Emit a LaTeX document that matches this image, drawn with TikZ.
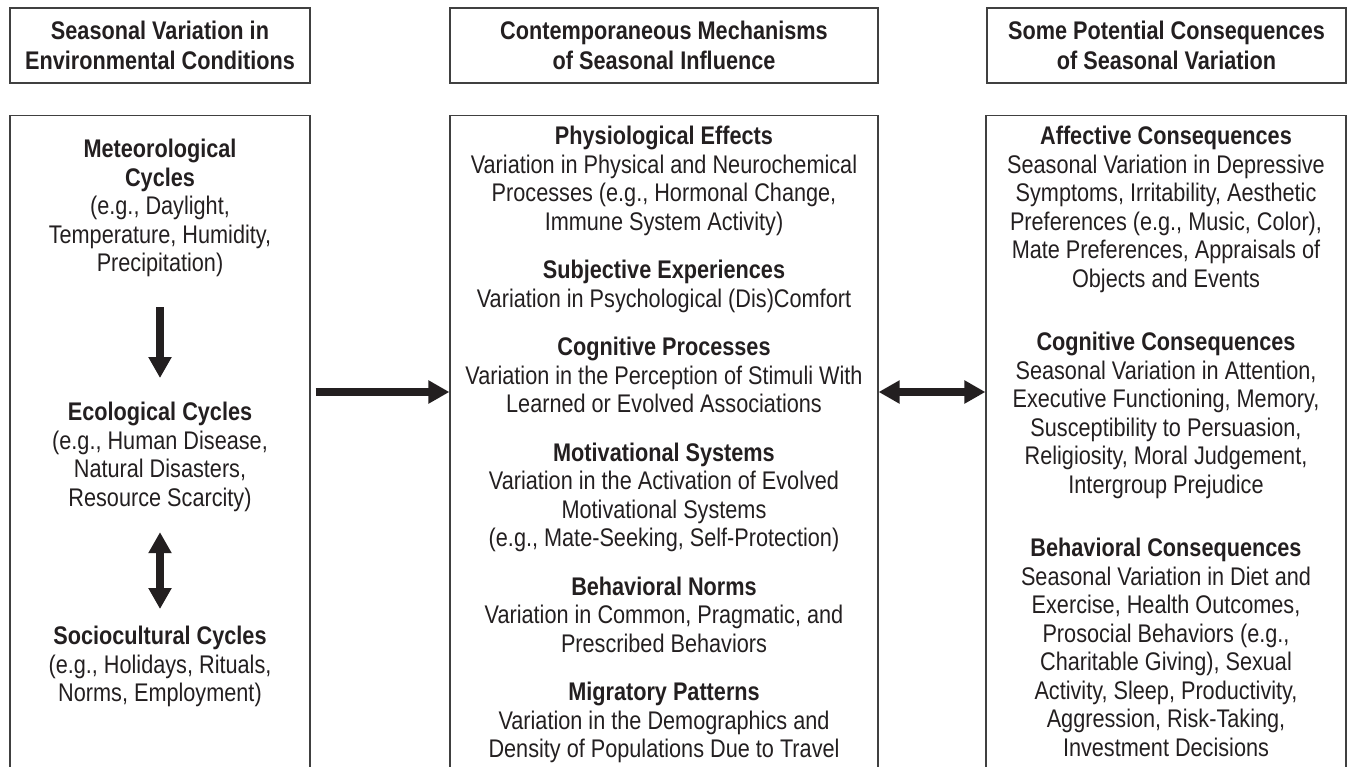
\documentclass[tikz,border=0pt]{standalone}
\usepackage{xcolor}
\usepackage{fontspec}
\setmainfont{Liberation Sans}[FakeStretch=0.85]
\usepackage{tikz}
\usetikzlibrary{arrows.meta,positioning}
\definecolor{ink}{HTML}{231F20}

\begin{document}
\begin{tikzpicture}[
				x = 1pt, y = -1pt,
				every node/.style = {text = ink, align = center, inner sep = 0pt},
				txt/.style = {font = \fontsize{25.5}{28.5}\selectfont, anchor = north},
				headbox/.style = {draw = black!75, line width = 1.2pt, minimum height = 75pt, font = \fontsize{25.5}{30}\selectfont\bfseries},
				colbox/.style = {draw = black!75, line width = 1.2pt, minimum height = 700pt, anchor = north},
				bigarrow/.style = {draw = ink, line width = 7.5pt, -{Triangle[length=21pt,width=22pt]}},
				bigboth/.style = {draw = ink, line width = 7.5pt, {Triangle[length=21pt,width=22pt]}-{Triangle[length=21pt,width=22pt]}}
			]

			\useasboundingbox (0,0) rectangle (1347,766);
			\clip (0,0) rectangle (1347,766);

			\node[headbox, minimum width = 300pt] (envtitle) at (160,45.5) {Seasonal Variation in\\Environmental Conditions};
			\node[headbox, minimum width = 428pt] (mechtitle) at (664,45.5) {Contemporaneous Mechanisms\\of Seasonal Influence};
			\node[headbox, minimum width = 359pt] (constitle) at (1166.5,45.5) {Some Potential Consequences\\of Seasonal Variation};

			\node[colbox, minimum width = 300pt] (envbox) at (160,115) {};
			\node[colbox, minimum width = 428pt] (mechbox) at (664,115) {};
			\node[colbox, minimum width = 360pt] (consbox) at (1166,115) {};

			\node[txt] (meteo) at (160,139) {\textbf{Meteorological}\\\textbf{Cycles}\\(e.g., Daylight,\\Temperature, Humidity,\\Precipitation)};
			\node[txt] (eco) at (160,402) {\textbf{Ecological Cycles}\\(e.g., Human Disease,\\Natural Disasters,\\Resource Scarcity)};
			\node[txt] (socio) at (160,626) {\textbf{Sociocultural Cycles}\\(e.g., Holidays, Rituals,\\Norms, Employment)};

			\node[txt] (physio) at (664,126) {\textbf{Physiological Effects}\\Variation in Physical and Neurochemical\\Processes (e.g., Hormonal Change,\\Immune System Activity)};
			\node[txt] (subj) at (664,260) {\textbf{Subjective Experiences}\\Variation in Psychological (Dis)Comfort};
			\node[txt] (cogproc) at (664,337) {\textbf{Cognitive Processes}\\Variation in the Perception of Stimuli With\\Learned or Evolved Associations};
			\node[txt] (motiv) at (664,442.5) {\textbf{Motivational Systems}\\Variation in the Activation of Evolved\\Motivational Systems\\(e.g., Mate-Seeking, Self-Protection)};
			\node[txt] (norms) at (664,576.5) {\textbf{Behavioral Norms}\\Variation in Common, Pragmatic, and\\Prescribed Behaviors};
			\node[txt] (migr) at (664,682) {\textbf{Migratory Patterns}\\Variation in the Demographics and\\Density of Populations Due to Travel};

			\node[txt] (affcons) at (1166,126) {\textbf{Affective Consequences}\\Seasonal Variation in Depressive\\Symptoms, Irritability, Aesthetic\\Preferences (e.g., Music, Color),\\Mate Preferences, Appraisals of\\Objects and Events};
			\node[txt] (cogcons) at (1166,332) {\textbf{Cognitive Consequences}\\Seasonal Variation in Attention,\\Executive Functioning, Memory,\\Susceptibility to Persuasion,\\Religiosity, Moral Judgement,\\Intergroup Prejudice};
			\node[txt] (behcons) at (1166,538) {\textbf{Behavioral Consequences}\\Seasonal Variation in Diet and\\Exercise, Health Outcomes,\\Prosocial Behaviors (e.g.,\\Charitable Giving), Sexual\\Activity, Sleep, Productivity,\\Aggression, Risk-Taking,\\Investment Decisions};

			\coordinate (level) at (0,392);

			\draw[bigarrow, shorten <= 30pt, shorten >= 24pt] (meteo.south) -- (eco.north);
			\draw[bigboth, shorten <= 20.5pt, shorten >= 17pt] (eco.south) -- (socio.north);

			\draw[bigarrow] ([xshift=5pt]envbox.east |- level) -- (mechbox.west |- level);
			\draw[bigboth] (mechbox.east |- level) -- (consbox.west |- level);

			\end{tikzpicture}
\end{document}
